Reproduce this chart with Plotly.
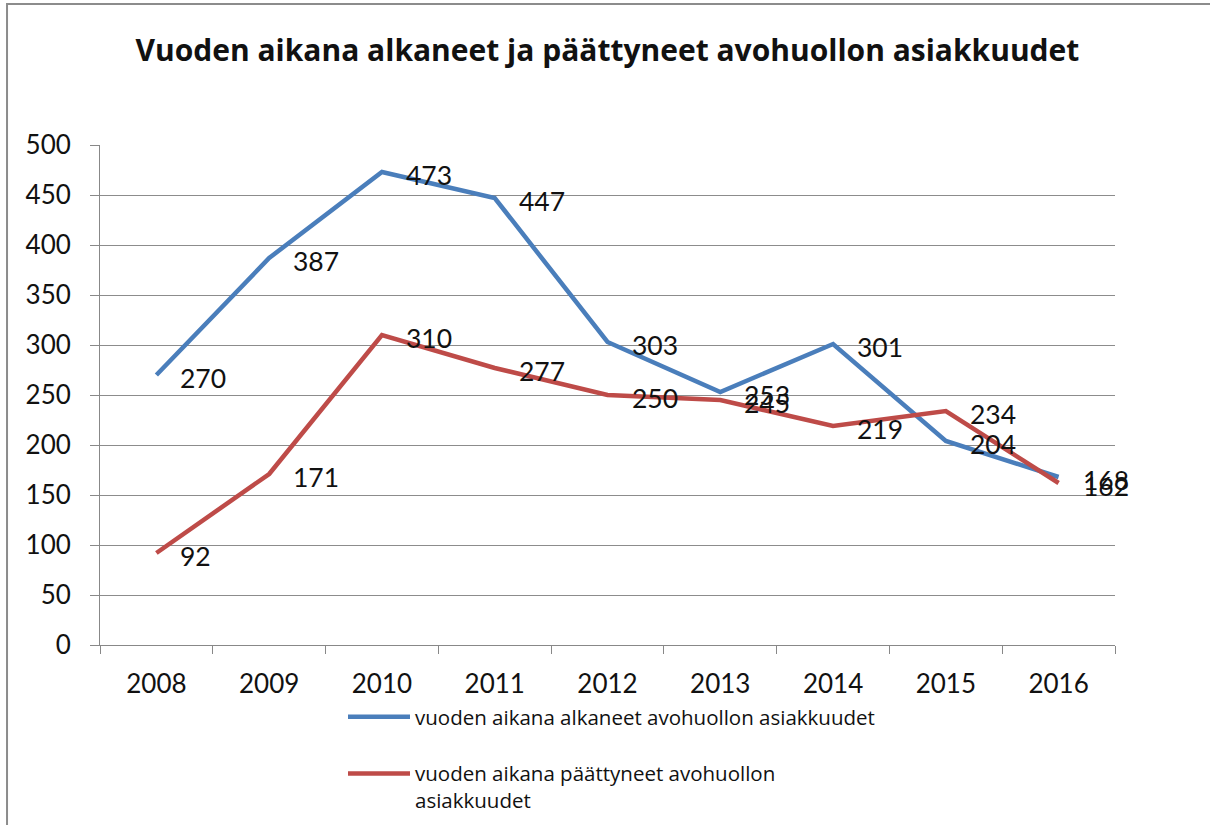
import plotly.graph_objects as go

years = ["2008", "2009", "2010", "2011", "2012", "2013", "2014", "2015", "2016"]
started = [270, 387, 473, 447, 303, 253, 301, 204, 168]
ended = [92, 171, 310, 277, 250, 245, 219, 234, 162]
name_started = "vuoden aikana alkaneet avohuollon asiakkuudet"
name_ended = "vuoden aikana päättyneet avohuollon<br>asiakkuudet"
title_text = "Vuoden aikana alkaneet ja päättyneet avohuollon asiakkuudet"
y_ticks = [0, 50, 100, 150, 200, 250, 300, 350, 400, 450, 500]

BLUE = "#4A7EBB"
RED = "#BE4B48"
FONT = "Lato"

fig = go.Figure()
fig.add_trace(go.Scatter(x=years, y=started, mode="lines", name=name_started,
                         line=dict(color=BLUE, width=4.5), legendgroup="a"))
fig.add_trace(go.Scatter(x=years, y=ended, mode="lines", name=name_ended,
                         line=dict(color=RED, width=4.5), legendgroup="b"))

for series in (started, ended):
    for i, v in enumerate(series):
        fig.add_annotation(x=i, y=v, text=str(v), showarrow=False,
                           xanchor="left", yanchor="middle", xshift=22, yshift=-3,
                           font=dict(family=FONT, size=26.5, color="#111111"))

# outer chart frame
fig.add_shape(type="rect", xref="paper", yref="paper",
              x0=-0.0916, x1=1.097, y0=-0.4, y1=1.282,
              line=dict(color="#8C8C8C", width=2), fillcolor="rgba(0,0,0,0)", layer="below")

fig.update_layout(
    width=1210, height=825,
    margin=dict(l=100, r=95, t=145, b=180, autoexpand=False),
    paper_bgcolor="white", plot_bgcolor="white",
    title=dict(text="<b>" + title_text + "</b>", x=0.502, xanchor="center",
               y=1 - 50 / 825, yanchor="middle", yref="container",
               font=dict(family="Open Sans", size=30, color="#111111")),
    font=dict(family=FONT, color="#111111"),
    showlegend=True,
    legend=dict(x=(343 - 100) / 1015, y=(645 - 697) / 500, xanchor="left", yanchor="top",
                font=dict(family="Open Sans", size=20.5, color="#111111"),
                itemwidth=62, tracegroupgap=27, valign="top", bgcolor="rgba(0,0,0,0)"),
)
fig.update_xaxes(type="category", range=[-0.5, 8.5], tickson="boundaries",
                 ticks="outside", ticklen=8, tickcolor="#888888",
                 showline=True, linecolor="#888888", linewidth=1,
                 showgrid=False, tickfont=dict(family=FONT, size=26, color="#111111"),
                 ticklabelstandoff=16)
fig.update_yaxes(range=[0, 500], tickvals=y_ticks, ticks="outside", ticklen=9,
                 tickcolor="#888888", showline=True, linecolor="#888888", linewidth=1,
                 showgrid=True, gridcolor="#8C8C8C", gridwidth=1, zeroline=False,
                 tickfont=dict(family=FONT, size=26, color="#111111"),
                 ticklabelstandoff=14)

fig.write_html("out.html", config={"displayModeBar": False},
               post_script="document.body.style.margin='0';")
